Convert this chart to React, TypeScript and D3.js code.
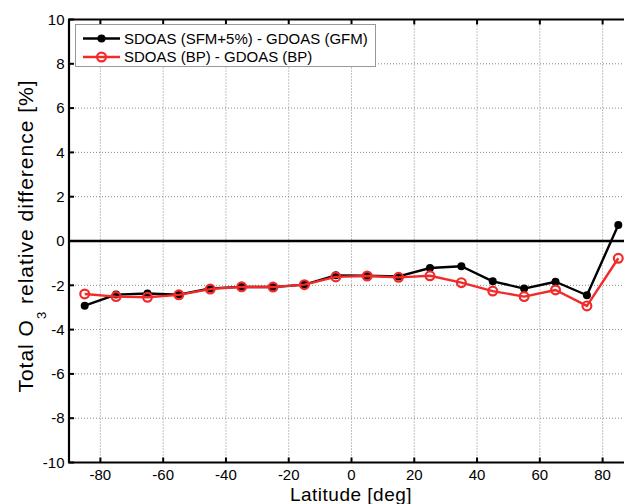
import React from "react";
import * as d3 from "d3";

const latitudes = [-85, -75, -65, -55, -45, -35, -25, -15, -5, 5, 15, 25, 35, 45, 55, 65, 75, 85];
const sfmDiff = [-2.92, -2.42, -2.37, -2.42, -2.14, -2.07, -2.08, -1.97, -1.55, -1.57, -1.6, -1.22, -1.14, -1.82, -2.15, -1.84, -2.45, 0.72];
const bpDiff = [-2.39, -2.51, -2.54, -2.43, -2.17, -2.07, -2.08, -1.97, -1.62, -1.58, -1.64, -1.57, -1.88, -2.26, -2.51, -2.21, -2.93, -0.78];
const xTicks = [-80, -60, -40, -20, 0, 20, 40, 60, 80];
const yTicks = [-10, -8, -6, -4, -2, 0, 2, 4, 6, 8, 10];
const seriesNames = ["SDOAS (SFM+5%) - GDOAS (GFM)", "SDOAS (BP) - GDOAS (BP)"];

const W = 624;
const H = 504;
const FONT = "'Liberation Sans', Arial, sans-serif";

export default function App() {
  const x = d3.scaleLinear().domain([-90, 90]).range([69, 634]);
  const y = d3.scaleLinear().domain([-10, 10]).range([462.5, 19.5]);
  const line = d3
    .line<number>()
    .x((_, i) => x(latitudes[i]))
    .y((d) => y(d));
  const red = "#f22a2a";
  const [x0, x1] = x.range();
  const [yb, yt] = y.range();

  return (
    <svg
      width={W}
      height={H}
      style={{ position: "absolute", left: 0, top: 0, background: "#fff" }}
      fontFamily={FONT}
    >
      <rect x={0} y={0} width={W} height={H} fill="#fff" />
      {/* grid */}
      {xTicks.map((t) => (
        <line key={"gx" + t} x1={x(t)} x2={x(t)} y1={yt} y2={yb} stroke="#888" strokeWidth={1} strokeDasharray="1,2" />
      ))}
      {yTicks
        .filter((t) => t !== 0 && t !== -10 && t !== 10)
        .map((t) => (
          <line key={"gy" + t} x1={x0} x2={x1} y1={y(t)} y2={y(t)} stroke="#888" strokeWidth={1} strokeDasharray="1,2" />
        ))}
      {/* zero line */}
      <line x1={x0} x2={x1} y1={y(0)} y2={y(0)} stroke="#000" strokeWidth={2.4} />
      {/* series 1 */}
      <path d={line(sfmDiff) || ""} fill="none" stroke="#000" strokeWidth={2.4} strokeLinejoin="round" />
      {sfmDiff.map((v, i) => (
        <circle key={"b" + i} cx={x(latitudes[i])} cy={y(v)} r={4} fill="#000" />
      ))}
      {/* series 2 */}
      <path d={line(bpDiff) || ""} fill="none" stroke={red} strokeWidth={2.4} strokeLinejoin="round" />
      {bpDiff.map((v, i) => (
        <circle key={"r" + i} cx={x(latitudes[i])} cy={y(v)} r={4.4} fill="none" stroke={red} strokeWidth={2.2} />
      ))}
      {/* axes */}
      <line x1={x0} x2={x0} y1={yt} y2={yb} stroke="#000" strokeWidth={2.2} />
      <line x1={x0 - 1} x2={W} y1={yt} y2={yt} stroke="#000" strokeWidth={2.2} />
      <line x1={x0 - 1} x2={W} y1={yb} y2={yb} stroke="#000" strokeWidth={2.2} />
      {xTicks.map((t) => (
        <g key={"tx" + t}>
          <line x1={x(t)} x2={x(t)} y1={yb} y2={yb - 5} stroke="#000" strokeWidth={2} />
          <line x1={x(t)} x2={x(t)} y1={yt} y2={yt + 5} stroke="#000" strokeWidth={2} />
          <text x={x(t)} y={yb + 17.5} textAnchor="middle" fontSize={15} fill="#000">
            {t}
          </text>
        </g>
      ))}
      {yTicks.map((t) => (
        <g key={"ty" + t}>
          <line x1={x0} x2={x0 + 5} y1={y(t)} y2={y(t)} stroke="#000" strokeWidth={2} />
          <text x={x0 - 4.5} y={y(t) + 5.2} textAnchor="end" fontSize={15} fill="#000">
            {t}
          </text>
        </g>
      ))}
      {/* axis labels */}
      <text x={351} y={501} textAnchor="middle" fontSize={19} letterSpacing={0.5} fill="#000">
        Latitude [deg]
      </text>
      <text transform={`translate(33, 236) rotate(-90)`} textAnchor="middle" fontSize={21} letterSpacing={1} fill="#000">
        Total O<tspan fontSize={13} dy={13}>3</tspan>
        <tspan dy={-13}> relative difference [%]</tspan>
      </text>
      {/* legend */}
      <rect x={75.5} y={24.5} width={300} height={42} fill="#fff" stroke="#999" strokeWidth={1} />
      <line x1={83} x2={120} y1={38.5} y2={38.5} stroke="#000" strokeWidth={2.4} />
      <circle cx={101.5} cy={38.5} r={4} fill="#000" />
      <text x={124} y={43.8} fontSize={15} fill="#000">
        {seriesNames[0]}
      </text>
      <line x1={83} x2={120} y1={57} y2={57} stroke={red} strokeWidth={2.4} />
      <circle cx={101.5} cy={57} r={4.4} fill="none" stroke={red} strokeWidth={2.2} />
      <text x={124} y={62.3} fontSize={15} fill="#000">
        {seriesNames[1]}
      </text>
    </svg>
  );
}
